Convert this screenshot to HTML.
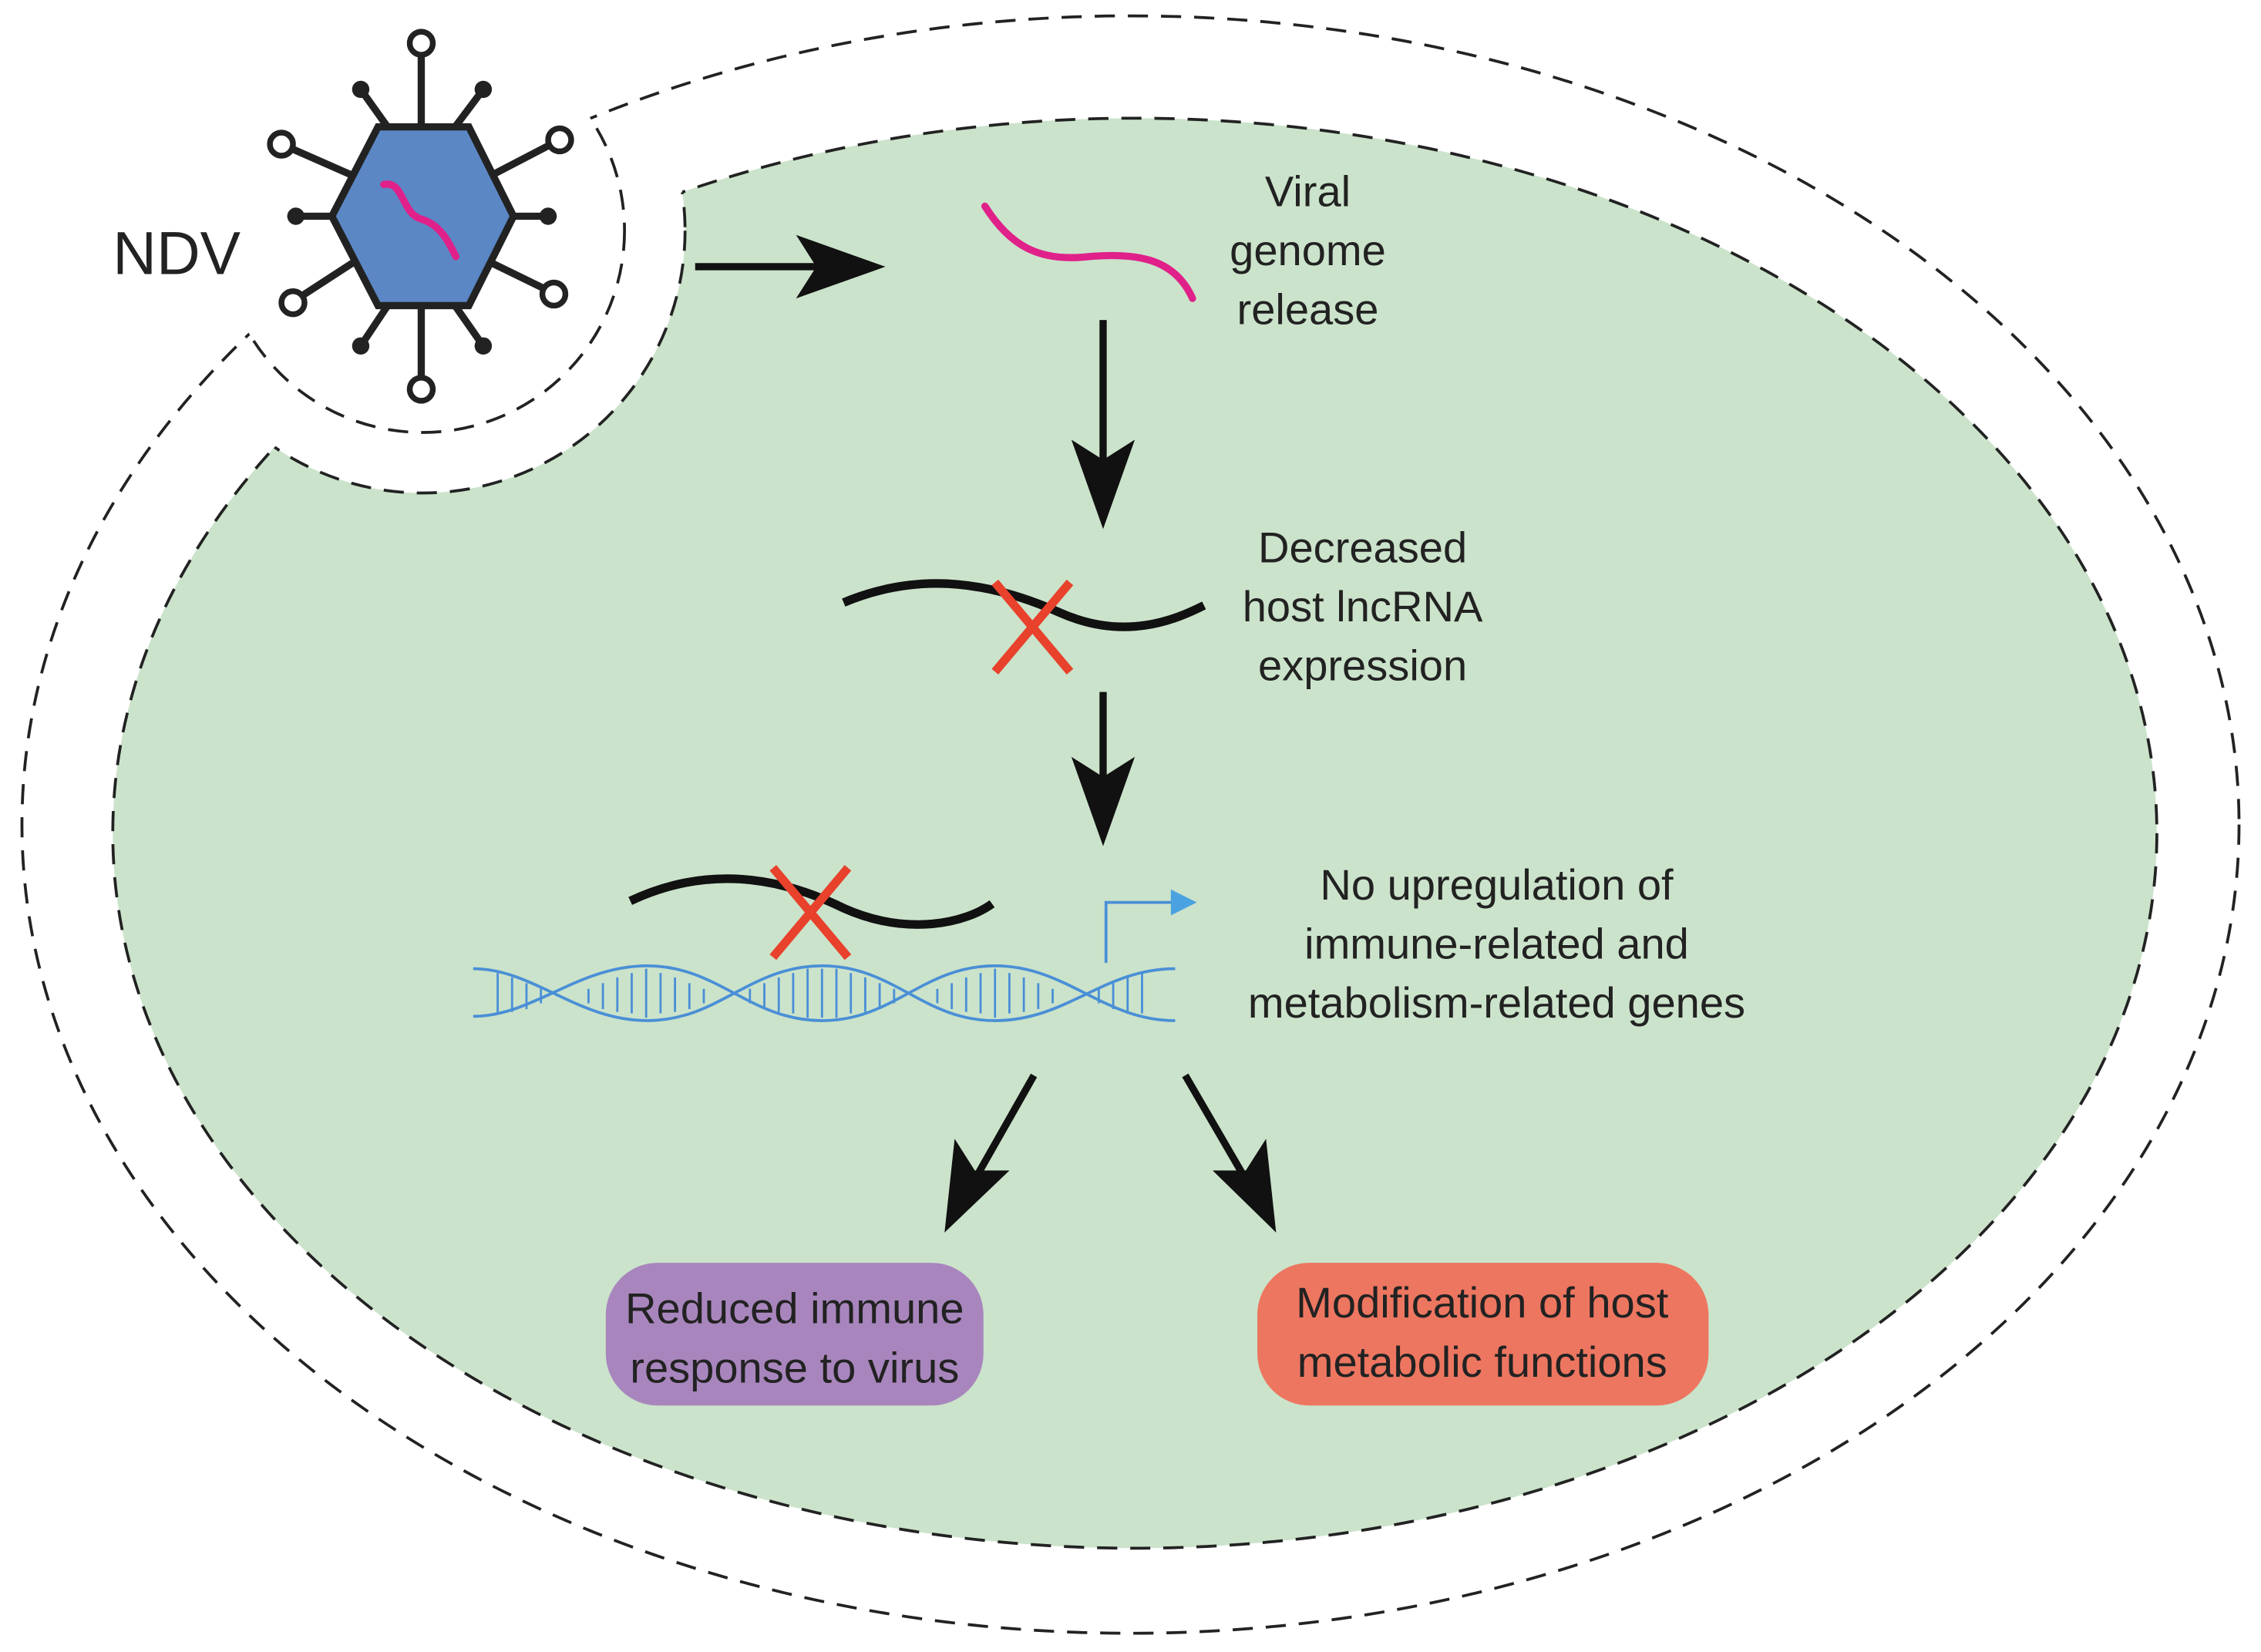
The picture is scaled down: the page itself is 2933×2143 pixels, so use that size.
<!DOCTYPE html>
<html><head><meta charset="utf-8"><style>html,body{margin:0;padding:0;background:#fff}svg{display:block}</style></head><body>
<svg width="2933" height="2143" viewBox="0 0 1568 1146" xmlns="http://www.w3.org/2000/svg" font-family="'Liberation Sans', sans-serif">
<defs>
<mask id="notch"><rect width="1568" height="1146" fill="#fff"/><circle cx="293" cy="160" r="182" fill="#000"/></mask>
<mask id="notch2"><rect width="1568" height="1146" fill="#fff"/><circle cx="293" cy="160" r="140" fill="#000"/></mask>
<clipPath id="ell"><ellipse cx="787" cy="578" rx="709" ry="496"/></clipPath>
<clipPath id="ellO"><ellipse cx="784" cy="572" rx="769" ry="561"/></clipPath>
</defs>
<ellipse cx="784" cy="572" rx="769" ry="561" fill="none" stroke="#222" stroke-width="2" stroke-dasharray="14 9" mask="url(#notch2)"/>
<circle cx="293" cy="160" r="140" fill="none" stroke="#222" stroke-width="2" stroke-dasharray="14 9" clip-path="url(#ellO)"/>
<g mask="url(#notch)">
<ellipse cx="787" cy="578" rx="709" ry="496" fill="#cbe3cb" stroke="#222" stroke-width="2" stroke-dasharray="14 9"/>
</g>
<circle cx="293" cy="160" r="182" fill="none" stroke="#222" stroke-width="2" stroke-dasharray="14 9" clip-path="url(#ell)"/>
<!-- virus -->
<g stroke="#222" stroke-width="5" fill="none">
<line x1="292" y1="88" x2="292" y2="38"/><line x1="292" y1="212" x2="292" y2="262"/>
<line x1="270" y1="90" x2="250" y2="62"/><line x1="314" y1="90" x2="335" y2="62"/>
<line x1="245" y1="122" x2="195" y2="100"/><line x1="340" y1="122" x2="388" y2="97"/>
<line x1="232" y1="150" x2="205" y2="150"/><line x1="354" y1="150" x2="380" y2="150"/>
<line x1="245" y1="182" x2="205" y2="208"/><line x1="340" y1="182" x2="383" y2="203"/>
<line x1="270" y1="210" x2="250" y2="240"/><line x1="314" y1="210" x2="335" y2="240"/>
</g>
<g fill="#222">
<circle cx="250" cy="62" r="6"/><circle cx="335" cy="62" r="6"/><circle cx="205" cy="150" r="6"/><circle cx="380" cy="150" r="6"/><circle cx="250" cy="240" r="6"/><circle cx="335" cy="240" r="6"/>
</g>
<g fill="#fff" stroke="#222" stroke-width="4">
<circle cx="292" cy="30" r="8"/><circle cx="292" cy="270" r="8"/><circle cx="195" cy="100" r="8"/><circle cx="388" cy="97" r="8"/><circle cx="203" cy="210" r="8"/><circle cx="384" cy="204" r="8"/>
</g>
<polygon points="262,88 325,88 356,150 325,212 262,212 230,150" fill="#5b87c5" stroke="#222" stroke-width="5"/>
<path d="M266 128 C280 125 278 148 292 152 C306 156 312 170 316 178" stroke="#e0218a" stroke-width="5" fill="none" stroke-linecap="round"/>
<text x="78" y="190" font-size="42" fill="#222">NDV</text>
<!-- arrows -->
<g fill="#111" stroke="#111">
<line x1="482" y1="185" x2="570" y2="185" stroke-width="5"/>
<polygon points="614,185 552,163 566,185 552,207" stroke="none"/>
<line x1="765" y1="222" x2="765" y2="325" stroke-width="5"/>
<polygon points="765,367 743,305 765,319 787,305" stroke="none"/>
<line x1="765" y1="480" x2="765" y2="545" stroke-width="5"/>
<polygon points="765,587 743,525 765,539 787,525" stroke="none"/>
<line x1="717" y1="746" x2="675" y2="820" stroke-width="5"/>
<polygon points="655,855 662,790 676,812 700,812" stroke="none"/>
<line x1="822" y1="746" x2="865" y2="820" stroke-width="5"/>
<polygon points="885,855 841,812 864,812 878,790" stroke="none"/>
</g>
<path d="M683 143 C700 170 720 182 755 178 C790 175 815 180 827 207" stroke="#e0218a" stroke-width="5" fill="none" stroke-linecap="round"/>
<g font-size="30" fill="#222" text-anchor="middle">
<text x="907" y="143">Viral</text><text x="907" y="184">genome</text><text x="907" y="225">release</text>
<text x="945" y="390">Decreased</text><text x="945" y="431">host lncRNA</text><text x="945" y="472">expression</text>
<text x="1038" y="624">No upregulation of</text><text x="1038" y="665">immune-related and</text><text x="1038" y="706">metabolism-related genes</text>
</g>
<path d="M585 418 C640 395 690 405 735 425 C780 445 815 430 835 420" stroke="#111" stroke-width="6" fill="none"/>
<g stroke="#e8412c" stroke-width="6"><line x1="690" y1="404" x2="742" y2="466"/><line x1="742" y1="404" x2="690" y2="466"/></g>
<path d="M437 625 C490 600 540 608 585 630 C630 650 670 640 688 627" stroke="#111" stroke-width="6" fill="none"/>
<g stroke="#e8412c" stroke-width="6"><line x1="536" y1="602" x2="588" y2="664"/><line x1="588" y1="602" x2="536" y2="664"/></g>
<!-- DNA -->
<g stroke="#4a8fd6" stroke-width="2" fill="none">
<path d="M328 705 C370 705 400 670 449 670 C498 670 520 708 570 708 C620 708 640 670 690 670 C740 670 765 708 815 708"/>
<path d="M328 672 C370 672 400 708 449 708 C498 708 520 670 570 670 C620 670 640 708 690 670 C740 670 765 672 815 672" opacity="0"/>
<path d="M328 672 C370 672 400 708 449 708 C498 708 520 670 570 670 C620 670 640 708 690 708 C740 708 765 672 815 672"/>
<g stroke-width="1.5">
<path d="M345 675v28M355 678v24M365 682v18M375 686v10M408 686v10M418 682v18M428 678v24M438 675v28M448 672v34M458 675v28M468 678v24M478 682v18M488 686v10M520 686v10M530 682v18M540 678v24M550 675v28M560 672v34M570 672v34M580 672v34M590 675v28M600 678v24M610 682v18M620 686v10M650 686v10M660 682v18M670 678v24M680 675v28M690 672v34M700 675v28M710 678v24M720 682v18M730 686v10M762 686v10M772 682v18M782 678v24M792 675v28"/>
</g>
<path d="M767 668 V626 H815" stroke-width="2"/>
</g>
<polygon points="830,626 812,617 812,635" fill="#4aa3e0"/>
<rect x="420" y="876" width="262" height="99" rx="36" fill="#a886bd"/>
<rect x="872" y="876" width="313" height="99" rx="36" fill="#ed7660"/>
<g font-size="30" fill="#222" text-anchor="middle">
<text x="551" y="918">Reduced immune</text><text x="551" y="959">response to virus</text>
<text x="1028" y="914">Modification of host</text><text x="1028" y="955">metabolic functions</text>
</g>
</svg>
</body></html>
